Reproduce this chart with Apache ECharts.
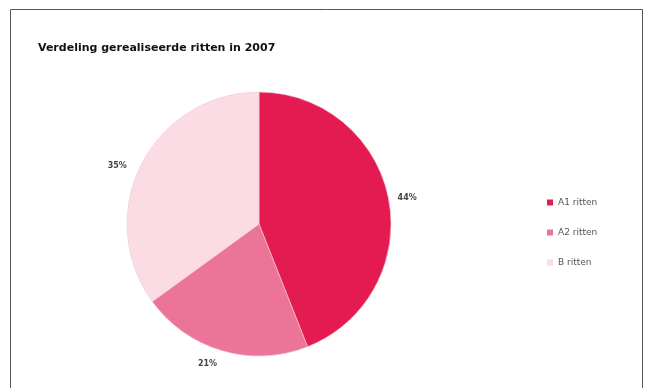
<!DOCTYPE html>
<html>
<head>
<meta charset="utf-8">
<script src="https://cdn.jsdelivr.net/npm/echarts@6/dist/echarts.min.js"></script>
<style>
html,body{margin:0;padding:0;background:#fff;}
#chart{width:652px;height:388px;}
</style>
</head>
<body>
<div id="chart"></div>
<script>
const titleText = 'Verdeling gerealiseerde ritten in 2007';
const categories = ['A1 ritten', 'A2 ritten', 'B ritten'];
const values = [44, 21, 35];
const colors = ['#e31b50', '#ec7499', '#fbdbe4'];
const labelNudge = [[0, -1], [1, 9], [-6, 4]];

const FONT = '"DejaVu Sans", Verdana, sans-serif';
const chart = echarts.init(document.getElementById('chart'), null, {renderer: 'canvas'});
chart.setOption({
  backgroundColor: '#fff',
  animation: false,
  graphic: [{
    type: 'rect',
    shape: {x: 10.5, y: 9.5, width: 632, height: 400},
    style: {fill: 'none', stroke: '#555', lineWidth: 1},
    silent: true
  }],
  title: {
    text: titleText,
    left: 33,
    top: 38,
    textStyle: {fontFamily: FONT, fontWeight: 'bold', fontSize: 11, color: '#111'}
  },
  legend: {
    orient: 'vertical',
    left: 542,
    top: 193,
    itemWidth: 6,
    itemHeight: 6,
    itemGap: 21,
    icon: 'rect',
    data: categories,
    itemStyle: {borderWidth: 0},
    textStyle: {fontFamily: FONT, fontSize: 9, color: '#555', padding: [0, 0, 0, 0]}
  },
  series: [{
    type: 'pie',
    center: [259, 224],
    radius: 132,
    startAngle: 90,
    clockwise: true,
    data: categories.map((c, i) => ({
      name: c, value: values[i],
      itemStyle: {color: colors[i]}
    })),
    itemStyle: {borderColor: '#f3c9d4', borderWidth: 0.6},
    label: {
      show: true,
      position: 'outside',
      formatter: p => p.value + '%',
      fontFamily: FONT,
      fontSize: 8,
      fontWeight: 'bold',
      color: '#444'
    },
    labelLine: {show: false, length: 4, length2: 0},
    labelLayout: p => ({dx: labelNudge[p.dataIndex][0], dy: labelNudge[p.dataIndex][1]}),
    emphasis: {disabled: true}
  }]
});
</script>
</body>
</html>
